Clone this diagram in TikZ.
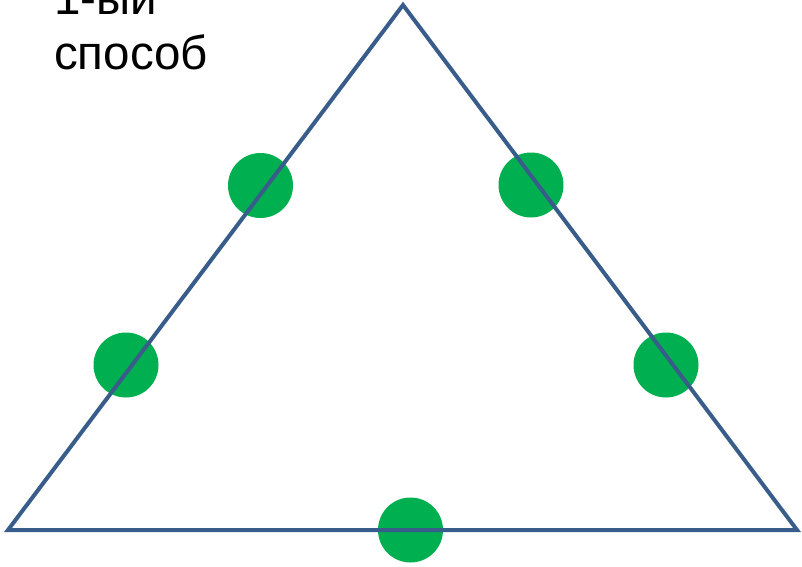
\documentclass[tikz,border=0pt]{standalone}
\usepackage{fontspec}
\setmainfont{Liberation Sans}
\definecolor{edgeblue}{HTML}{385D8A}
\definecolor{dotgreen}{HTML}{00B050}
\begin{document}
\begin{tikzpicture}[x=1pt,y=1pt,
  dot/.style={circle,fill=dotgreen,minimum size=65pt,inner sep=0pt},
  lbl/.style={anchor=base west,inner sep=0pt,font=\fontsize{47.5}{54}\selectfont}]
\useasboundingbox (0,0) rectangle (802,566);
\node[dot] (d1) at (260.5,380.5) {};
\node[dot] (d2) at (531,381) {};
\node[dot] (d3) at (126,201) {};
\node[dot] (d4) at (666,201) {};
\node[dot] (d5) at (410.5,36) {};
\coordinate (A) at (403,561);
\coordinate (B) at (8,36);
\coordinate (C) at (797,36);
\draw[edgeblue,line width=4pt,line join=miter] (A) -- (B) -- (C) -- cycle;
\node[lbl] (t1) at (54,551.5) {1-ый};
\node[lbl] (t2) at (54,496) {способ};
\end{tikzpicture}
\end{document}
